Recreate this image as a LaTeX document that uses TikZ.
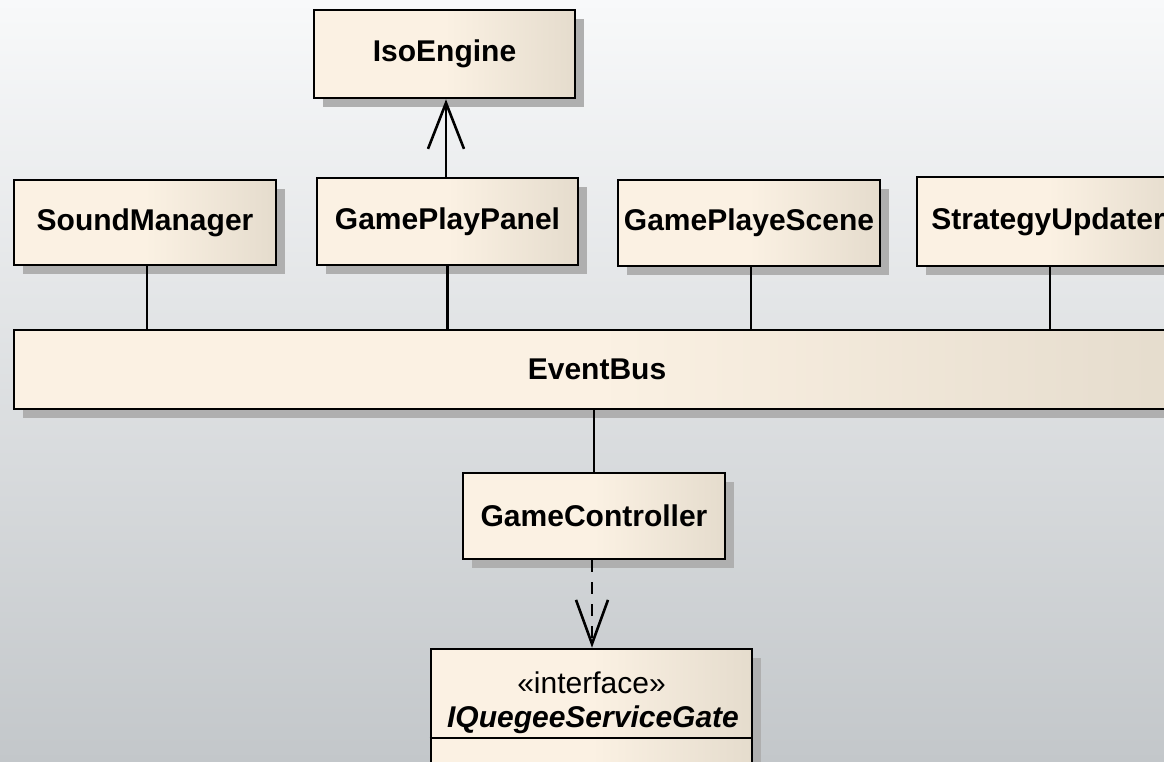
\documentclass[tikz,border=0pt]{standalone}
\usepackage{fontspec}
\setmainfont{Liberation Sans}
\usetikzlibrary{arrows.meta,shadows}
\definecolor{bgtop}{RGB}{248,249,250}
\definecolor{bgbot}{RGB}{195,199,202}
\definecolor{boxA}{RGB}{251,241,227}
\definecolor{boxB}{RGB}{229,220,205}
\definecolor{shadowc}{RGB}{175,175,175}
\begin{document}
\begin{tikzpicture}[x=1pt,y=-1pt,
  cls/.style={rectangle, draw=black, line width=2.6pt, left color=boxA, right color=boxB, middle color=boxA,
    font=\fontsize{30}{34}\selectfont\bfseries, inner sep=0pt,
    drop shadow={shadow xshift=9pt, shadow yshift=-9pt, fill=shadowc, opacity=1}},
  assoc/.style={draw=black, line width=2.6pt},
  navarrow/.style={assoc, -{Straight Barb[length=46pt,width=36pt]}},
  deparrow/.style={assoc, dash pattern=on 12pt off 10pt, -{Straight Barb[length=44pt,width=32pt]}},
  plaintext/.style={inner sep=0pt, font=\fontsize{30}{34}\selectfont}
]
\useasboundingbox (0,0) rectangle (1164,762);
\clip (0,0) rectangle (1164,762);
\shade[top color=bgtop, bottom color=bgbot] (0,0) rectangle (1164,762);

\node[cls, minimum width=261pt, minimum height=88pt] (iso) at (444.5,54) {IsoEngine};
\node[cls, minimum width=262pt, minimum height=85pt] (sound) at (145,222.5) {SoundManager};
\node[cls, minimum width=261pt, minimum height=87pt] (panel) at (447.5,221.5) {GamePlayPanel};
\node[cls, minimum width=262pt, minimum height=86pt] (scene) at (749,223) {GamePlayeScene};
\node[cls, minimum width=262pt, minimum height=89pt] (strat) at (1048,221.5) {StrategyUpdater};
\node[cls, minimum width=1166pt, minimum height=79pt] (bus) at (597,369.5) {EventBus};
\node[cls, minimum width=262pt, minimum height=86pt] (ctrl) at (594,516) {GameController};
\node[cls, minimum width=321pt, minimum height=151pt] (iface) at (591.5,724.5) {};
\draw[assoc] (iface.west |- 0,738) -- (iface.east |- 0,738);
\node[plaintext] (ifst) at (591.5,683) {«interface»};
\node[plaintext, font=\fontsize{30}{34}\selectfont\bfseries\itshape] (ifname) at (593,720) {IQuegeeServiceGate};

\draw[navarrow] ([xshift=1.5pt]iso.south |- panel.north) -- ([xshift=1.5pt]iso.south);
\draw[assoc] ([xshift=2pt]sound.south) -- ([xshift=2pt]sound.south |- bus.north);
\draw[assoc] (panel.south) -- (panel.south |- bus.north);
\draw[assoc] ([xshift=2pt]scene.south) -- ([xshift=2pt]scene.south |- bus.north);
\draw[assoc] ([xshift=2pt]strat.south) -- ([xshift=2pt]strat.south |- bus.north);
\draw[assoc] (bus.south -| ctrl.north) -- (ctrl.north);
\draw[deparrow] ([xshift=-2pt]ctrl.south) -- ([xshift=-2pt]ctrl.south |- iface.north);
\end{tikzpicture}
\end{document}
